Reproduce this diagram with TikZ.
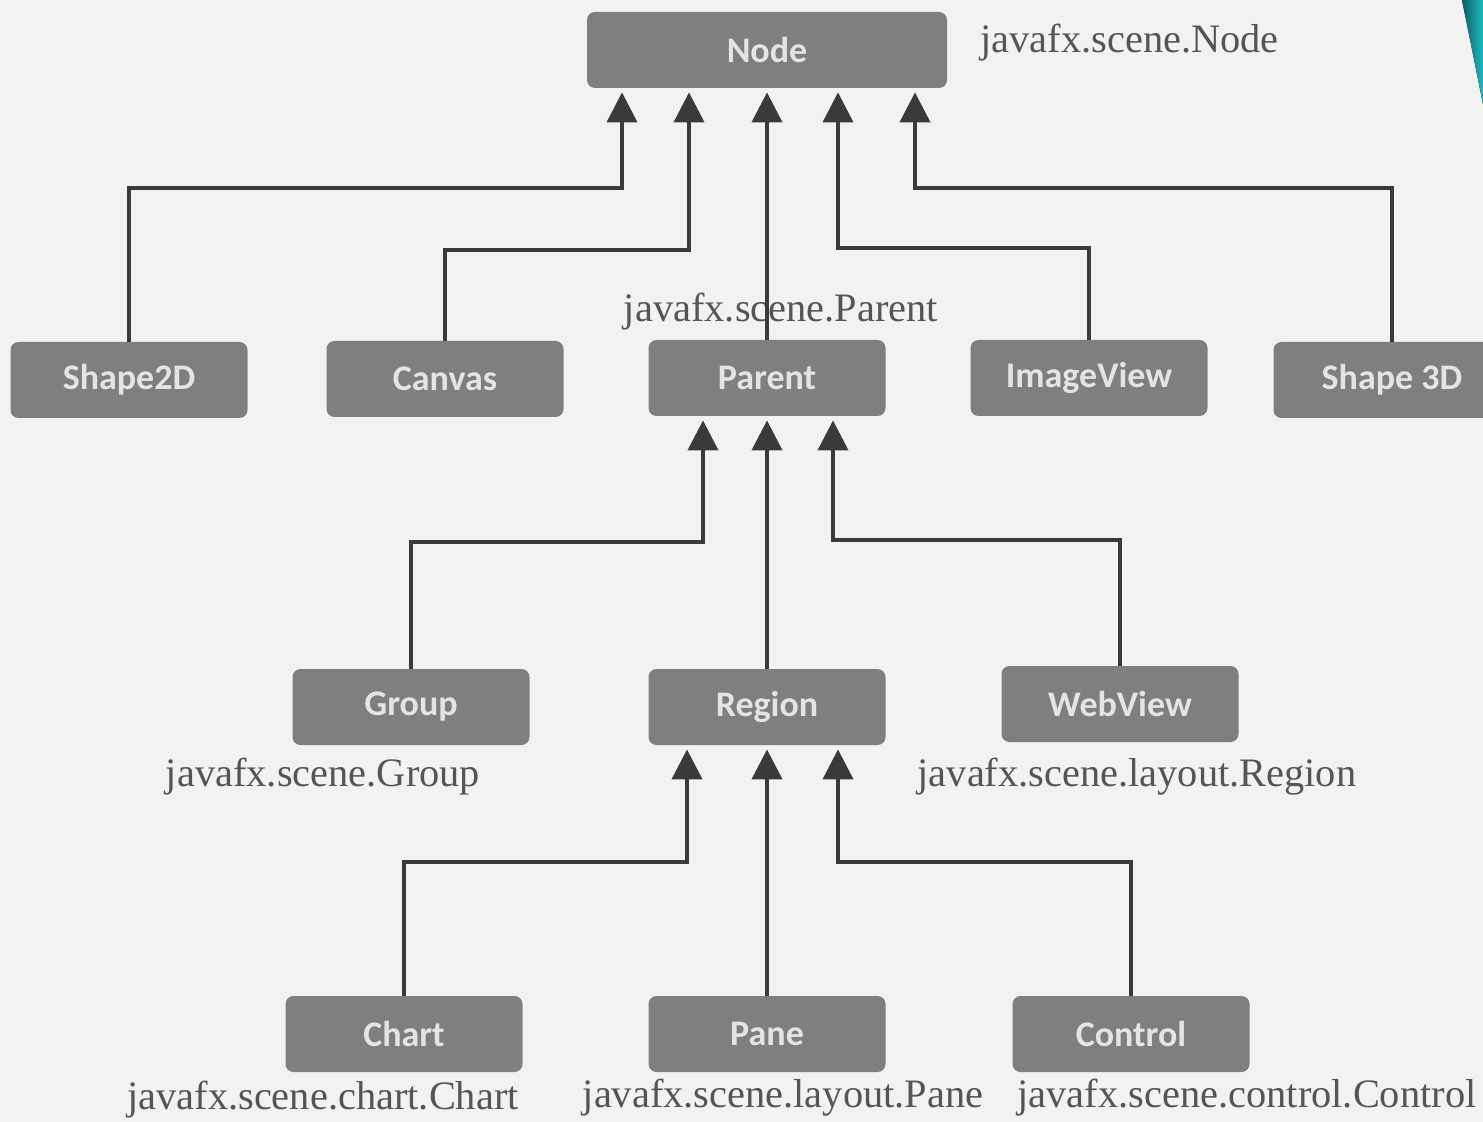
\documentclass[tikz,border=0pt]{standalone}
\usepackage{fontspec}
\setmainfont{Liberation Serif}
\newfontfamily\boxfont{Carlito}
\usetikzlibrary{arrows.meta,calc}

\definecolor{bggray}{HTML}{F2F2F2}
\definecolor{boxgray}{HTML}{7F7F7F}
\definecolor{boxtext}{HTML}{E4E4E4}
\definecolor{linegray}{HTML}{3A3A3A}
\definecolor{pkgtext}{HTML}{555555}
\definecolor{tealdark}{HTML}{0F5E66}
\definecolor{teallight}{HTML}{1CBAC2}

\tikzset{
  cls/.style={fill=boxgray, rounded corners=4pt, minimum width=118.5pt,
    minimum height=38pt, text=boxtext,
    font=\boxfont\bfseries\fontsize{18}{20}\selectfont},
  pkg/.style={text=pkgtext, inner sep=0pt, font=\fontsize{20.2}{24}\selectfont},
  inh/.style={draw=linegray, line width=2pt,
    -{Triangle[width=15pt,length=15pt]}, shorten >=2pt}
}

\begin{document}
\begin{tikzpicture}[x=0.5pt,y=-0.5pt]
  \useasboundingbox (0,0) rectangle (1483,1122);
  \fill[bggray] (0,0) rectangle (1483,1122);
  \fill[left color=tealdark, right color=teallight] (1462,0) -- (1483,0) -- (1483,104) -- cycle;

  % classes
  \node[cls, minimum width=180pt] (node) at (767,50) {Node};

  \node[cls] (shape2d) at (129,380) {Shape2D};
  \node[cls] (canvas) at (445,379) {Canvas};
  \node[cls] (parent) at (767,378) {Parent};
  \node[cls] (imageview) at (1089,378) {ImageView};
  \node[cls] (shape3d) at (1392,380) {Shape 3D};

  \node[cls] (group) at (411,707) {Group};
  \node[cls] (region) at (767,707) {Region};
  \node[cls] (webview) at (1120,704) {WebView};

  \node[cls] (chart) at (404,1034) {Chart};
  \node[cls] (pane) at (767,1034) {Pane};
  \node[cls] (control) at (1131,1034) {Control};

  % package names
  \node[pkg, anchor=west] (nodepkg) at (980,43) {javafx.scene.Node};
  \node[pkg] (parentpkg) at (781,312) {javafx.scene.Parent};
  \node[pkg] (grouppkg) at (323,777) {javafx.scene.Group};
  \node[pkg] (regionpkg) at (1137,777) {javafx.scene.layout.Region};
  \node[pkg] (chartpkg) at (323,1100) {javafx.scene.chart.Chart};
  \node[pkg] (panepkg) at (783,1098) {javafx.scene.layout.Pane};
  \node[pkg] (controlpkg) at (1247,1098) {javafx.scene.control.Control};

  % inheritance
  \draw[inh] (shape2d.north) |- ($(node.south)+(-145,100)$) -- ($(node.south)+(-145,0)$);
  \draw[inh] (canvas.north) |- ($(node.south)+(-78,162)$) -- ($(node.south)+(-78,0)$);
  \draw[inh] (parent.north) -- (node.south);
  \draw[inh] (imageview.north) |- ($(node.south)+(71,160)$) -- ($(node.south)+(71,0)$);
  \draw[inh] (shape3d.north) |- ($(node.south)+(148,100)$) -- ($(node.south)+(148,0)$);

  \draw[inh] (group.north) |- ($(parent.south)+(-64,126)$) -- ($(parent.south)+(-64,0)$);
  \draw[inh] (region.north) -- (parent.south);
  \draw[inh] (webview.north) |- ($(parent.south)+(66,124)$) -- ($(parent.south)+(66,0)$);

  \draw[inh] (chart.north) |- ($(region.south)+(-80,117)$) -- ($(region.south)+(-80,0)$);
  \draw[inh] (pane.north) -- (region.south);
  \draw[inh] (control.north) |- ($(region.south)+(71,117)$) -- ($(region.south)+(71,0)$);
\end{tikzpicture}
\end{document}
